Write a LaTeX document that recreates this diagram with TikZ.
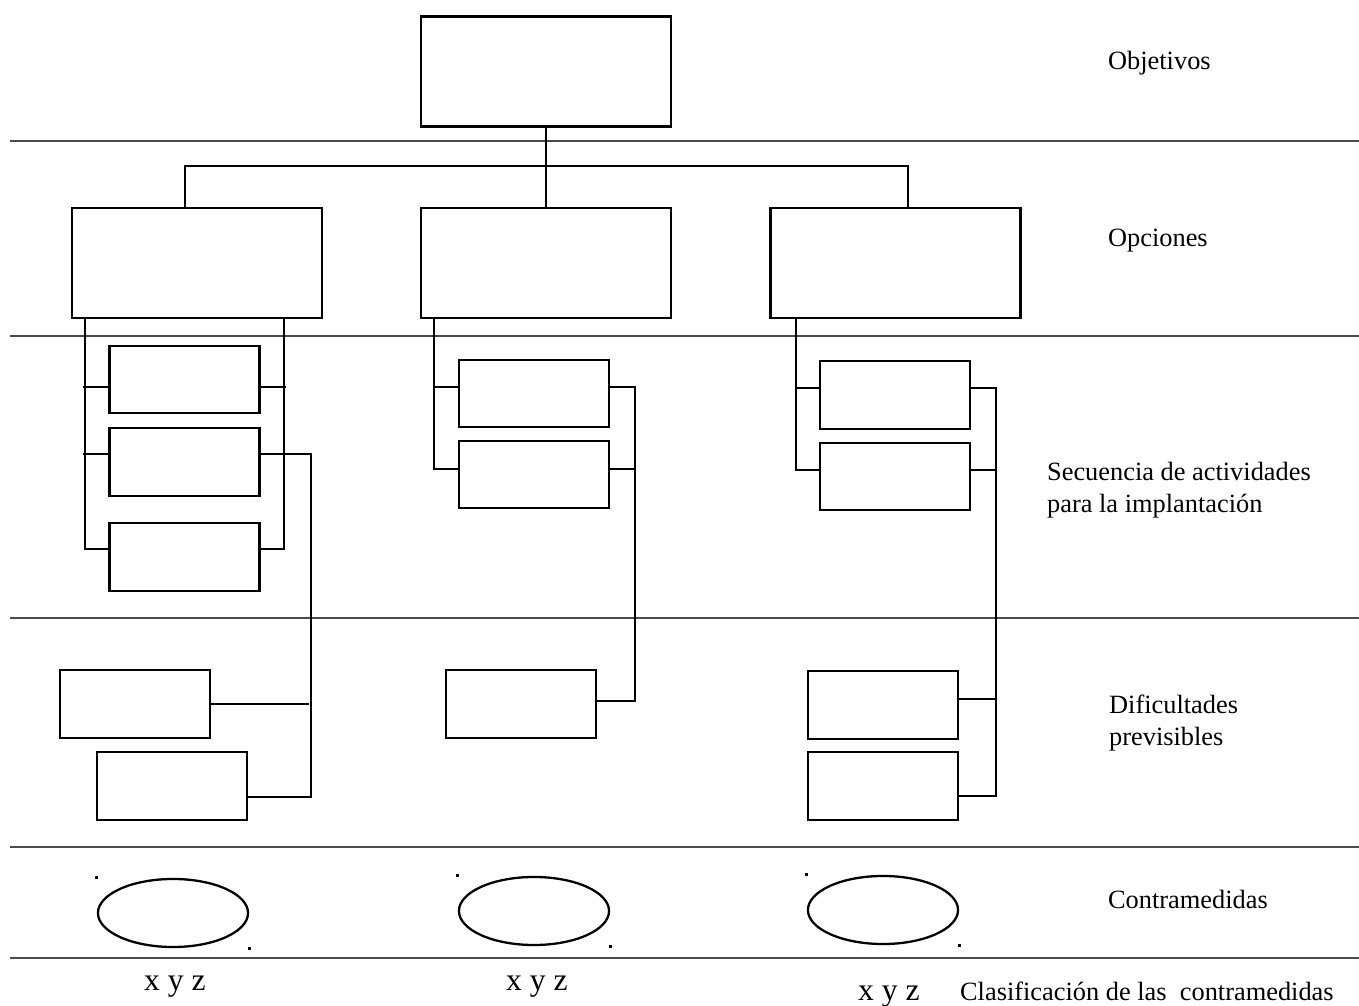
\documentclass[tikz,border=0pt]{standalone}
\usepackage{fontspec}
\setmainfont{Liberation Serif}
\usetikzlibrary{shapes.geometric}

\tikzset{
  box/.style = {draw, minimum width = 1.5cm, minimum height = 0.675cm, inner sep = 0},
  bigbox/.style = {box, minimum width = 2.5cm, minimum height = 1.1cm},
  oval/.style = {draw, ellipse, minimum width = 1.5cm, minimum height = 0.68cm, inner sep = 0},
  lab/.style = {anchor = base west, inner sep = 0, align = left,
    font = \fontsize{7.5}{9.1}\selectfont},
  xyz/.style = {lab, font = \fontsize{9}{11}\selectfont},
  sep/.style = {line width = 0.4pt, draw = black!70}
}

\begin{document}
\begin{tikzpicture}[x = 0.01cm, y = -0.01cm, line width = 0.65pt]
  \useasboundingbox (0, 0) rectangle (1359, 1006);

  \foreach \y in {141, 336, 618, 847, 958}{
    \draw[sep] (10, \y) -- (1359, \y);
  }

  % objetivos y opciones
  \node[bigbox] (obj) at (546, 71.5) {};
  \node[bigbox] (opc1) at (197, 263) {};
  \node[bigbox] (opc2) at (546, 263) {};
  \node[bigbox] (opc3) at (895.5, 263) {};

  \coordinate (j1) at (185, 166);
  \coordinate (j3) at (908, 166);
  \draw (obj.south) -- (opc2.north);
  \draw (j1 |- opc1.north) -- (j1) -- (j3) -- (j3 |- opc3.north);

  % actividades
  \node[box] (act11) at (184.5, 379.5) {};
  \node[box] (act12) at (184.5, 462) {};
  \node[box] (act13) at (184.5, 557) {};
  \node[box] (act21) at (534, 393.5) {};
  \node[box] (act22) at (534, 474.5) {};
  \node[box] (act31) at (895, 395) {};
  \node[box] (act32) at (895, 476.5) {};

  % dificultades
  \node[box] (dif11) at (135, 704) {};
  \node[box] (dif12) at (172, 786) {};
  \node[box] (dif21) at (521, 704) {};
  \node[box] (dif31) at (883, 705) {};
  \node[box] (dif32) at (883, 786) {};

  \coordinate (l1) at (85, 0);
  \coordinate (r1) at (284, 0);
  \coordinate (f1) at (309, 0);
  \coordinate (l2) at (434, 0);
  \coordinate (l3) at (796, 0);

  \draw (opc1.south -| l1) |- ([yshift = 0.08cm]act13.west);
  \draw ([yshift = -0.075cm]act11.west) -- ++(-25, 0);
  \draw ([yshift = 0.08cm]act12.west) -- ++(-25, 0);
  \draw (opc1.south -| r1) |- ([yshift = 0.08cm]act13.east);
  \draw ([yshift = -0.075cm]act11.east) -- ++(25, 0);
  \draw ([yshift = 0.08cm]act12.east) -- ++(50, 0) |- ([yshift = -0.11cm]dif12.east);
  \draw (dif11.east) -- (dif11.east -| f1);

  \draw (opc2.south -| l2) |- ([yshift = 0.055cm]act22.west);
  \draw ([yshift = 0.065cm]act21.west) -- ++(-25, 0);
  \draw ([yshift = 0.065cm]act21.east) -- ++(25, 0) |- ([yshift = 0.03cm]dif21.east);
  \draw ([yshift = 0.055cm]act22.east) -- ++(25, 0);

  \draw (opc3.south -| l3) |- ([yshift = 0.065cm]act32.west);
  \draw ([yshift = 0.07cm]act31.west) -- ++(-24, 0);
  \draw ([yshift = 0.07cm]act31.east) -- ++(25, 0) |- ([yshift = -0.1cm]dif32.east);
  \draw ([yshift = 0.065cm]act32.east) -- ++(25, 0);
  \draw ([yshift = 0.06cm]dif31.east) -- ++(37, 0);

  % contramedidas
  \node[oval] (con1) at (173, 913) {};
  \node[oval] (con2) at (534, 911) {};
  \node[oval] (con3) at (883, 910) {};
  \foreach \e in {con1, con2, con3}{
    \fill (\e.west |- \e.north) ++(-1.5, -1.5) rectangle ++(3, 3);
    \fill (\e.east |- \e.south) ++(-1.5, -1.5) rectangle ++(3, 3);
  }

  \node[xyz] (xyz1) at (143, 991) {x y z};
  \node[xyz] (xyz2) at (505, 991) {x y z};
  \node[xyz] (xyz3) at (857, 1001) {x y z};

  % rotulos
  \node[lab] (tobj) at (1107, 69) {Objetivos};
  \node[lab] (topc) at (1107, 247) {Opciones};
  \node[lab] (tact) at (1046, 512) {Secuencia de actividades\\para la implantación};
  \node[lab] (tdif) at (1108, 745) {Dificultades\\previsibles};
  \node[lab] (tcon) at (1107, 908) {Contramedidas};
  \node[lab] (tcls) at (959, 1001) {Clasificación de las~~contramedidas};
\end{tikzpicture}
\end{document}
